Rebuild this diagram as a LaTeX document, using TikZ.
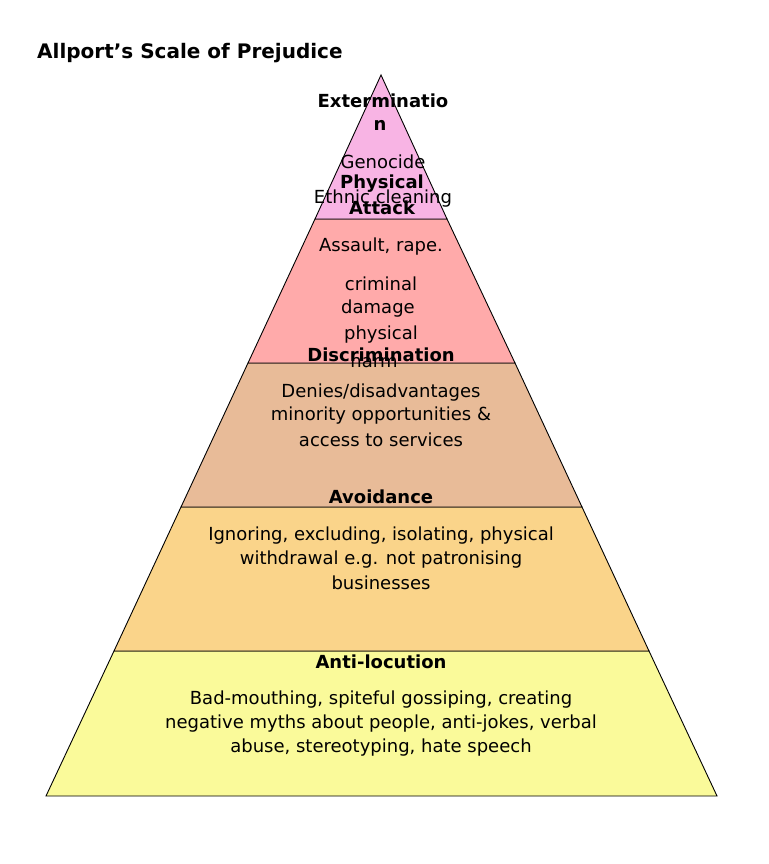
\documentclass[tikz,border=0pt]{standalone}
\usepackage{fontspec}
\setmainfont{DejaVu Sans}
\definecolor{c1}{HTML}{F8B4E4}
\definecolor{c2}{HTML}{FFAAAA}
\definecolor{c3}{HTML}{E8BB98}
\definecolor{c4}{HTML}{FAD48A}
\definecolor{c5}{HTML}{FAFA9A}
\begin{document}
\begin{tikzpicture}[x=1pt,y=-1pt,
  band/.style={draw=black,line width=0.9pt,line join=miter},
  t/.style={font=\fontsize{18}{20}\selectfont,inner sep=0pt},
  b/.style={font=\fontsize{18}{20}\selectfont\bfseries,inner sep=0pt}]
\useasboundingbox (0,0) rectangle (768,864);
\fill[white] (0,0) rectangle (768,864);
\draw[band,fill=c5] (46,796) -- (717,796) -- (649,651) -- (114,651) -- cycle;
\draw[band,fill=c4] (114,651) -- (649,651) -- (582,507) -- (181,507) -- cycle;
\draw[band,fill=c3] (181,507) -- (582,507) -- (515,363) -- (248,363) -- cycle;
\draw[band,fill=c2] (248,363) -- (515,363) -- (447,219) -- (315,219) -- cycle;
\draw[band,fill=c1] (315,219) -- (447,219) -- (381,75) -- cycle;
\node[anchor=west,font=\fontsize{20}{22}\selectfont\bfseries,inner sep=0pt] (title) at (37,53) {Allport’s Scale of Prejudice};
\node[b] (e1) at (383,101) {Exterminatio};
\node[b] (e2) at (380,125) {n};
\node[t] (g1) at (383,162) {Genocide};
\node[t] (g2) at (383,199) {Ethnic cleaning};
\node[b] (p1) at (382,184) {Physical};
\node[b] (p2) at (382,208) {Attack};
\node[t] (a1) at (381,247) {Assault, rape.};
\node[t] (a2) at (381,284) {criminal};
\node[t] (a3) at (378,309) {damage};
\node[t] (a4) at (381,335) {physical};
\node[t] (a5) at (374,361) {harm};
\node[b] (d0) at (381,355) {Discrimination};
\node[t] (d1) at (381,393) {Denies/disadvantages};
\node[t] (d2) at (381,416) {minority opportunities \&};
\node[t] (d3) at (381,440) {access to services};
\node[b] (v0) at (381,497) {Avoidance};
\node[t] (v1) at (381,536) {Ignoring, excluding, isolating, physical};
\node[t] (v2) at (381,560) {withdrawal e.g. not patronising};
\node[t] (v3) at (381,583) {businesses};
\node[b] (l0) at (381,662) {Anti-locution};
\node[t] (l1) at (381,700) {Bad-mouthing, spiteful gossiping, creating};
\node[t] (l2) at (381,724) {negative myths about people, anti-jokes, verbal};
\node[t] (l3) at (381,748) {abuse, stereotyping, hate speech};
\end{tikzpicture}
\end{document}
